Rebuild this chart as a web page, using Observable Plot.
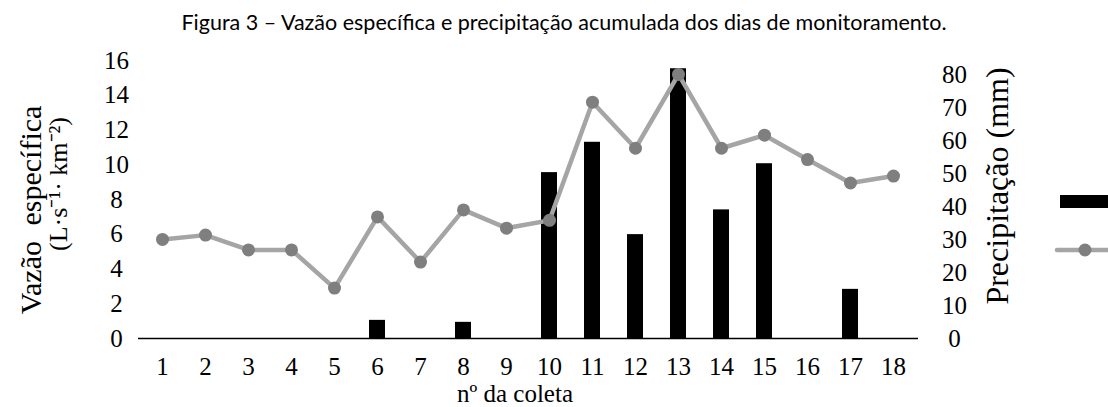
<!DOCTYPE html>
<html><head><meta charset="utf-8">
<script src="https://cdn.jsdelivr.net/npm/d3@7"></script>
<script src="https://cdn.jsdelivr.net/npm/@observablehq/plot@0.6"></script>
<style>
body{margin:0;background:#fff;}
#wrap{position:relative;width:1108px;height:407px;overflow:hidden;background:#fff;}
#title{height:36px;box-sizing:border-box;padding-top:12px;padding-left:20px;line-height:21px;font-family:Lato,'Open Sans',sans-serif;font-size:21.5px;text-align:center;color:#000;white-space:nowrap;}
#chart svg{display:block;}
</style></head>
<body><div id="wrap"><div id="title">Figura 3 – Vazão específica e precipitação acumulada dos dias de monitoramento.</div><div id="chart"></div></div>
<script>
const coletas = [1,2,3,4,5,6,7,8,9,10,11,12,13,14,15,16,17,18];
const vazao = [5.7,5.95,5.1,5.1,2.9,7.0,4.4,7.4,6.35,6.8,13.6,10.95,15.2,10.95,11.7,10.3,8.95,9.35];
const precipitacao = [0,0,0,0,0,5.5,0,4.9,0,50.3,59.5,31.5,81.8,39,53,0,14.9,0];
const leftTicks = [0,2,4,6,8,10,12,14,16];
const rightTicks = [0,10,20,30,40,50,60,70,80];
const leftMax = 16;
const rightMax = 84.3;
const k = leftMax / rightMax;

const data = coletas.map((c, i) => ({coleta: c, vazao: vazao[i], precip: precipitacao[i]}));

const H = 371;
const chart = Plot.plot({
  width: 1108, height: H,
  marginTop: 24, marginBottom: 69, marginLeft: 138, marginRight: 190,
  style: {fontFamily: "'Liberation Serif', 'Times New Roman', serif", fontSize: "25px", color: "#000", background: "#fff", overflow: "visible"},
  x: {type: "band", domain: coletas, paddingInner: 0.62, paddingOuter: 0.31, axis: null},
  y: {domain: [0, leftMax], axis: null},
  marks: [
    Plot.barY(data, {x: "coleta", y: d => d.precip * k, fill: "#000"}),
    Plot.ruleY([0], {stroke: "#000", strokeWidth: 1.5}),
    Plot.line(data, {x: "coleta", y: "vazao", stroke: "#A5A5A5", strokeWidth: 4.5}),
    Plot.dot(data, {x: "coleta", y: "vazao", r: 6.5, fill: "#7F7F7F", stroke: "none"}),
    Plot.axisX(coletas, {anchor: "bottom", label: null, tickSize: 0, tickPadding: 19, fontSize: 25}),
    Plot.axisY(leftTicks, {anchor: "left", label: null, tickSize: 0, tickPadding: 22, textAnchor: "middle", fontSize: 25}),
    Plot.axisY(rightTicks.map(v => v * k), {anchor: "right", label: null, tickSize: 0, tickPadding: 36, textAnchor: "middle", fontSize: 25, tickFormat: d => String(Math.round(d / k))})
  ]
});
document.getElementById("chart").appendChild(chart);

const svg = d3.select(chart);
const oy = 36; // svg offset in page
const serif = "'Liberation Serif', 'Times New Roman', serif";
function vtext(x, y, str, size, wordSpacing) {
  const t = svg.append("text")
    .attr("transform", `translate(${x},${y - oy}) rotate(-90)`)
    .attr("text-anchor", "middle")
    .attr("dominant-baseline", "central")
    .attr("font-family", serif)
    .attr("font-size", size)
    .attr("fill", "#000")
    .text(str);
  if (wordSpacing) t.attr("word-spacing", wordSpacing);
}
vtext(30, 210, "Vazão específica", 30, 8);
vtext(58, 184, "(L·s⁻¹· km⁻²)", 26);
vtext(997, 186, "Precipitação (mm)", 32);
svg.append("text")
  .attr("x", 515).attr("y", 393 - oy)
  .attr("text-anchor", "middle").attr("dominant-baseline", "central")
  .attr("font-family", serif).attr("font-size", 25).attr("fill", "#000")
  .text("nº da coleta");

// legend
svg.append("rect").attr("x", 1060).attr("y", 195 - oy).attr("width", 60).attr("height", 13).attr("fill", "#000");
svg.append("line").attr("x1", 1057).attr("x2", 1120).attr("y1", 250 - oy).attr("y2", 250 - oy)
  .attr("stroke", "#A5A5A5").attr("stroke-width", 4.5).attr("stroke-linecap", "round");
svg.append("circle").attr("cx", 1085).attr("cy", 250 - oy).attr("r", 6.5).attr("fill", "#7F7F7F");
</script>
</body></html>
